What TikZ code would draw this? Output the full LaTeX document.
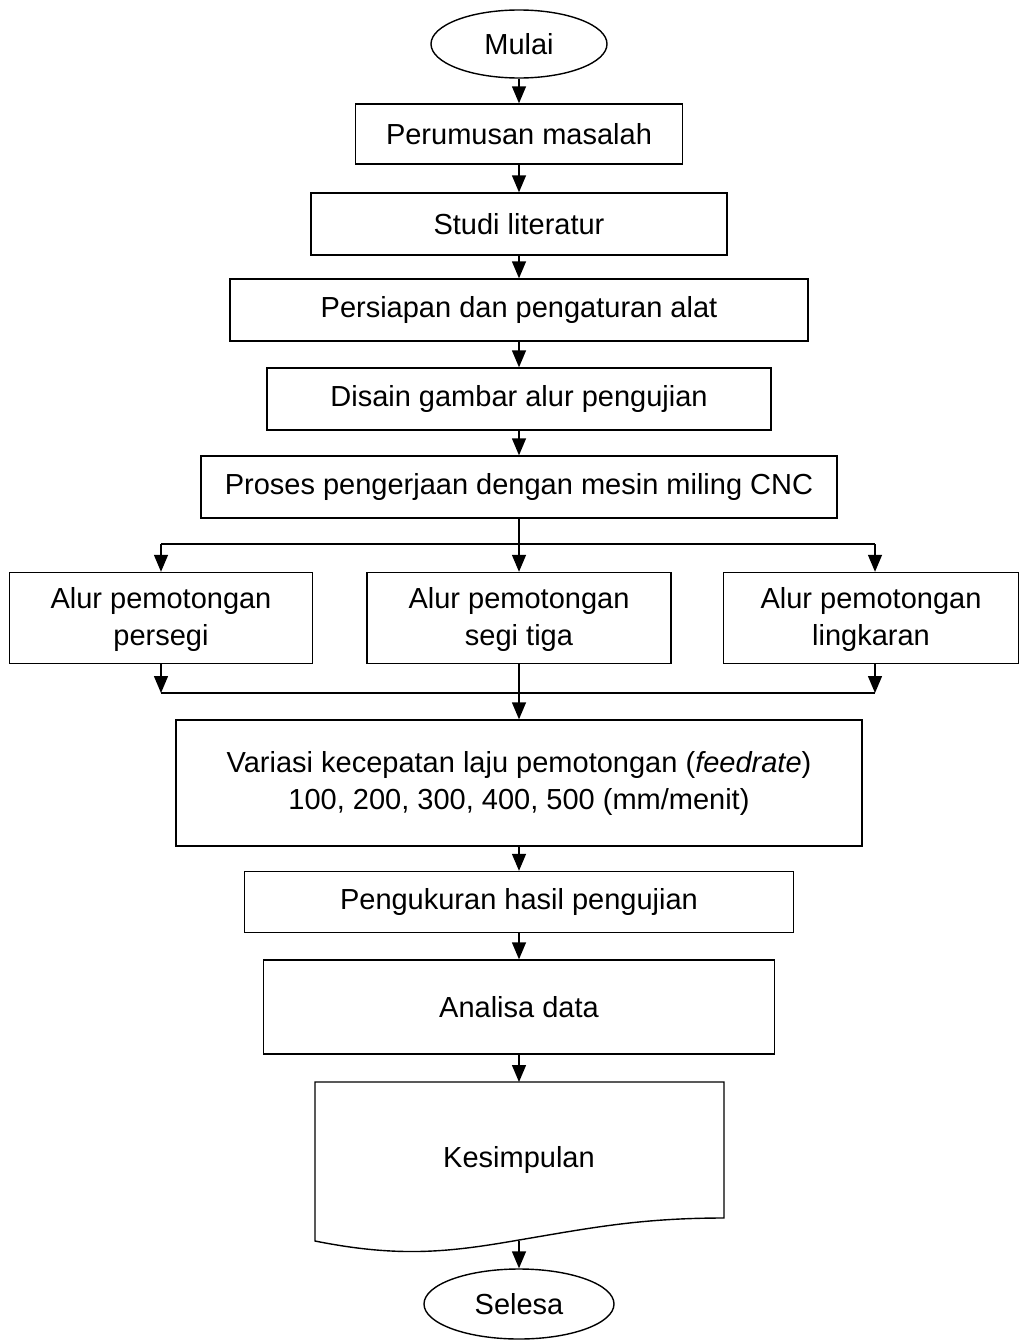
\documentclass[tikz,border=0pt]{standalone}
\usepackage{fontspec}
\setmainfont{Liberation Sans}
\usetikzlibrary{arrows.meta,shapes.geometric}
\definecolor{ink}{RGB}{0,0,0}
\tikzset{
  flowbox/.style={draw=ink,line width=1.4pt,rectangle,align=center,inner sep=0pt,
    text=ink,font=\fontsize{29}{37}\selectfont},
  termbox/.style={flowbox,ellipse},
  flowarrow/.style={draw=ink,line width=1.4pt,-{Triangle[length=17pt,width=14pt]}},
  flowline/.style={draw=ink,line width=1.4pt}
}
\begin{document}
\begin{tikzpicture}[x=1pt,y=-1pt]
  \def\W{1019}
  \def\H{1341}
  \def\xm{519}
  \useasboundingbox (0,0) rectangle (\W,\H);
  \node[termbox,minimum width=176pt,minimum height=68pt] (mulai) at (\xm,44) {Mulai};
  \foreach \nm/\yc/\w/\h/\txt in {%
     rumus/134/327/60/{Perumusan masalah},
     studi/224/416/62/{Studi literatur},
     siap/310/578/62/{Persiapan dan pengaturan alat},
     disain/399/504/62/{Disain gambar alur pengujian},
     proses/487/636/62/{Proses pengerjaan dengan mesin miling CNC},
     variasi/783/686/126/{Variasi kecepatan laju pemotongan (\textit{feedrate})\\100, 200, 300, 400, 500 (mm/menit)},
     ukur/902/549/61/{Pengukuran hasil pengujian},
     analisa/1007/511/94/{Analisa data}}{
     \node[flowbox,minimum width=\w pt,minimum height=\h pt] (\nm) at (\xm,\yc) {\txt};
  }
  \foreach \nm/\xc/\w/\txt in {%
     persegi/161/303/{Alur pemotongan\\persegi},
     segitiga/\xm/304/{Alur pemotongan\\segi tiga},
     lingkaran/871/295/{Alur pemotongan\\lingkaran}}{
     \node[flowbox,minimum width=\w pt,minimum height=91pt,text depth=3pt] (\nm) at (\xc,618) {\txt};
  }
  % dokumen kesimpulan
  \draw[flowline] (315,1082) -- (724,1082) -- (724,1218)
     .. controls (640,1218) and (590,1228) .. (\xm,1240)
     .. controls (450,1252) and (400,1258) .. (315,1241) -- cycle;
  \node[text=ink,font=\fontsize{29}{36}\selectfont] (simpul) at (\xm,1160) {Kesimpulan};
  \coordinate (simpultop) at (\xm,1082);
  \coordinate (simpulbot) at (\xm,1241);
  \node[termbox,minimum width=190pt,minimum height=70pt] (selesa) at (\xm,1304) {Selesa};
  % percabangan
  \coordinate (split) at (\xm,544);
  \coordinate (splitL) at (161,544);
  \coordinate (splitR) at (875,544);
  \coordinate (joinL) at (161,693);
  \coordinate (joinR) at (875,693);
  \foreach \a/\b in {mulai/rumus,rumus/studi,studi/siap,siap/disain,disain/proses,
     variasi/ukur,ukur/analisa}{
     \draw[flowarrow] (\a) -- (\b);
  }
  \draw[flowline] (proses) -- (split);
  \draw[flowline] (splitL) -- (splitR);
  \draw[flowarrow] (splitL) -- (persegi);
  \draw[flowarrow] (split) -- (segitiga);
  \draw[flowarrow] (splitR) -- (splitR |- lingkaran.north);
  \draw[flowarrow] (persegi) -- (joinL);
  \draw[flowarrow] (lingkaran.south -| joinR) -- (joinR);
  \draw[flowline] (joinL) -- (joinR);
  \draw[flowarrow] (segitiga) -- (variasi);
  \draw[flowarrow] (analisa) -- (simpultop);
  \draw[flowarrow] (simpulbot) -- (selesa);
\end{tikzpicture}
\end{document}
